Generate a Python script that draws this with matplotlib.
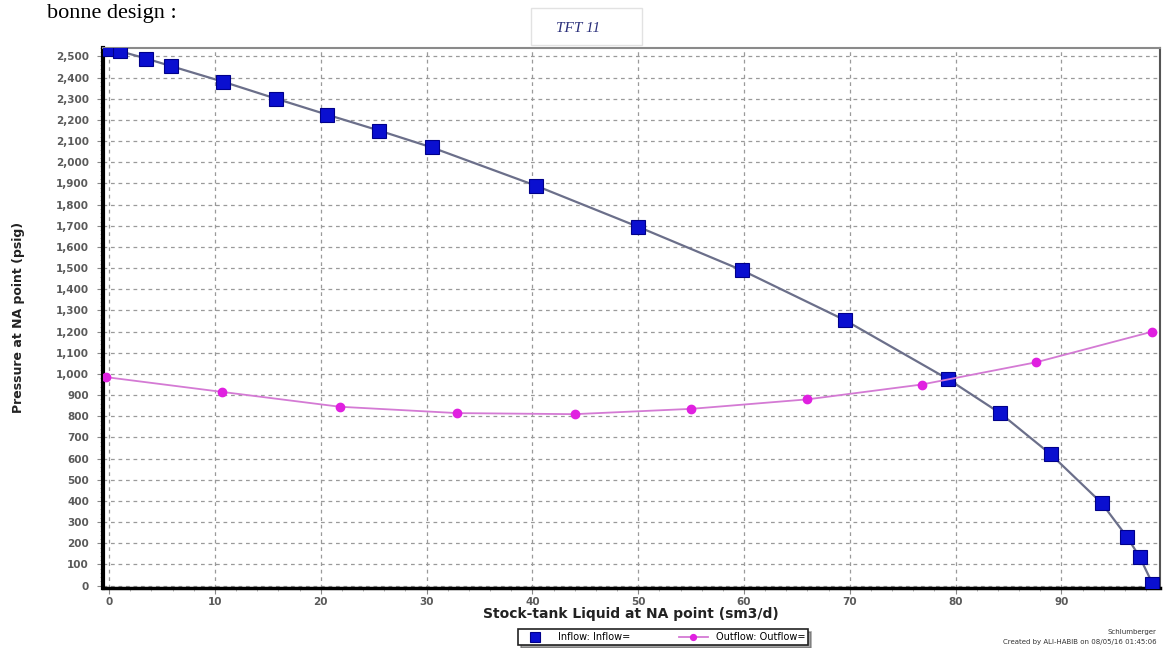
import matplotlib.pyplot as plt
from matplotlib.ticker import FuncFormatter, MultipleLocator
from matplotlib.patches import FancyBboxPatch

# inflow (IPR) and outflow (VLP) curves, liquid rate sm3/d vs pressure psig
inflow_q = [0, 1, 3.5, 5.8, 10.8, 15.8, 20.6, 25.5, 30.5, 40.3, 50, 59.8,
            69.5, 79.3, 84.2, 89, 93.8, 96.2, 97.4, 98.6]
inflow_p = [2535, 2525, 2490, 2455, 2380, 2300, 2225, 2150, 2070, 1890, 1695,
            1490, 1255, 975, 815, 620, 390, 230, 135, 10]

outflow_q = [-0.3, 10.7, 21.8, 32.9, 44, 55, 66, 76.8, 87.6, 98.6]
outflow_p = [985, 915, 845, 815, 810, 835, 880, 950, 1055, 1200]

x_ticks = list(range(0, 100, 10))
y_ticks = list(range(0, 2600, 100))

fig = plt.figure(figsize=(11.68, 6.48), dpi=100)
ax = fig.add_axes([0.088, 0.093, 0.905, 0.833])

ax.plot(inflow_q, inflow_p, color="#6b6f8a", lw=1.6, zorder=3,
        marker="s", markersize=9.5, markerfacecolor="#0a0fd0",
        markeredgecolor="#00008a", markeredgewidth=0.8, label="Inflow: Inflow=")
ax.plot(outflow_q, outflow_p, color="#d47ad4", lw=1.3, zorder=3,
        marker="o", markersize=6, markerfacecolor="#e020e0",
        markeredgecolor="#e020e0", label="Outflow: Outflow=")

ax.set_xlim(-0.6, 99.3)
ax.set_ylim(-10, 2540)
ax.set_xticks(x_ticks)
ax.set_yticks(y_ticks)
ax.xaxis.set_minor_locator(MultipleLocator(2))
ax.yaxis.set_minor_locator(MultipleLocator(20))
ax.yaxis.set_major_formatter(FuncFormatter(lambda v, p: f"{int(v):,}"))

ax.grid(True, which="major", color="#9a9a9a", ls=(0, (3, 3)), lw=0.9)
ax.tick_params(which="major", length=4, color="#888888", labelsize=7.5,
               labelcolor="#5a5a5a", pad=6)
ax.tick_params(axis="x", which="major", pad=3)
ax.tick_params(which="minor", length=2, color="#aaaaaa")
for lab in ax.get_xticklabels() + ax.get_yticklabels():
    lab.set_fontweight("bold")

ax.spines["left"].set_linewidth(3)
ax.spines["bottom"].set_linewidth(2.5)
ax.spines["top"].set_color("#8a8a8a")
ax.spines["top"].set_linewidth(1.5)
ax.spines["right"].set_color("#555555")
ax.spines["right"].set_linewidth(1.5)

ax.set_xlabel("Stock-tank Liquid at NA point (sm3/d)", fontsize=10,
              fontweight="bold", color="#222222", labelpad=0)
ax.set_ylabel("Pressure at NA point (psig)", fontsize=9, fontweight="bold",
              color="#222222", labelpad=22)

leg = ax.legend(loc="center", bbox_to_anchor=(0.53, -0.092), ncol=2,
                fontsize=7, frameon=True, fancybox=False, shadow=True,
                edgecolor="#222222", borderpad=0.3, handlelength=3,
                columnspacing=5, markerscale=0.7)
leg.get_frame().set_linewidth(1.2)
leg.get_lines()[0].set_linestyle("none")

# title box and page heading
fig.patches.append(FancyBboxPatch((0.455, 0.93), 0.095, 0.058,
                                  boxstyle="square,pad=0", transform=fig.transFigure,
                                  facecolor="white", edgecolor="#e2e2e2", lw=1))
fig.text(0.495, 0.956, "TFT 11", fontsize=11, style="italic", color="#2a2f7a",
         family="Liberation Serif", ha="center", va="center")
fig.text(0.04, 0.972, "bonne design :", fontsize=16, color="black",
         family="Liberation Serif", ha="left", va="baseline")

fig.text(0.99, 0.022, "Schlumberger", fontsize=5, color="#333333", ha="right")
fig.text(0.99, 0.006, "Created by ALI-HABIB on 08/05/16 01:45:06", fontsize=5,
         color="#333333", ha="right")

fig.savefig("out.png", dpi=100)
